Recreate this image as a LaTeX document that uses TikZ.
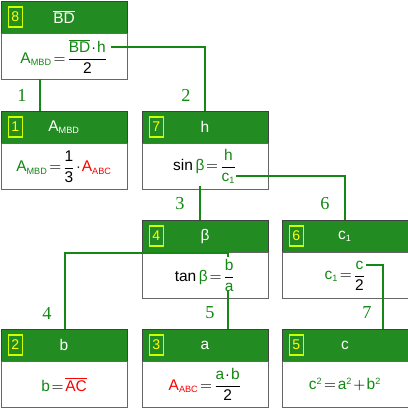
\documentclass[tikz,border=0pt]{standalone}
\usepackage{amsmath}
\usepackage{fontspec}
\setmainfont{Liberation Sans}
\newfontfamily\stepfont{Liberation Serif}
\usetikzlibrary{positioning}
\definecolor{hdgreen}{RGB}{34,139,34}
\definecolor{vgreen}{RGB}{20,135,20}
\definecolor{nyellow}{RGB}{255,255,0}
\DeclareMathSizes{11}{11}{6.5}{5}
\newcommand{\gv}[1]{\textcolor{vgreen}{\text{#1}}}
\newcommand{\rv}[1]{\textcolor{red}{\text{#1}}}
\thickmuskip=2mu plus 1mu
\medmuskip=1.5mu plus 1mu

\begin{document}
\begin{tikzpicture}[
    x=0.025cm, y=-0.025cm,
    head/.style={rectangle, draw=black!75, fill=hdgreen, minimum width=3.15cm, minimum height=0.8cm, inner sep=0pt, text=white, font=\fontsize{11}{13}\selectfont},
    body/.style={rectangle, draw=black!60, fill=white, minimum width=3.15cm, minimum height=1.15cm, inner sep=0pt, font=\fontsize{11}{13}\selectfont},
    numbox/.style={rectangle, draw=nyellow!80!green, thick, minimum width=0.36cm, minimum height=0.5cm, inner sep=0pt, text=nyellow, font=\fontsize{10}{12}\selectfont},
    steplabel/.style={text=vgreen, font=\stepfont\fontsize{13}{15}\selectfont},
    link/.style={draw=vgreen, line width=1.1pt}
]
    \useasboundingbox (0,0) rectangle (408,408);

    % Box 8
    \node[head] (h8) at (64,17) {$\overline{\text{BD}}$};
    \node[numbox, right=0.17cm of h8.west, anchor=west] (n8) {8};
    \node[body, below=0pt of h8] (b8) {$\gv{A}_{\gv{MBD}}=\dfrac{\textcolor{vgreen}{\overline{\text{BD}}}\cdot\gv{h}}{\text{2}}$};

    % Second row
    \node[head] (h1) at (64,127) {$\text{A}_{\text{MBD}}$};
    \node[numbox, right=0.17cm of h1.west, anchor=west] (n1) {1};
    \node[body, below=0pt of h1] (b1) {$\gv{A}_{\gv{MBD}}=\dfrac{\text{1}}{\text{3}}\cdot\rv{A}_{\rv{ABC}}$};

    \node[head] (h7) at (205,127) {h};
    \node[numbox, right=0.17cm of h7.west, anchor=west] (n7) {7};
    \node[body, below=0pt of h7] (b7) {$\text{sin}\,\gv{β}=\dfrac{\gv{h}}{\gv{c}_{\gv{1}}}$};

    % Third row
    \node[head] (h4) at (205,236) {β};
    \node[numbox, right=0.17cm of h4.west, anchor=west] (n4) {4};
    \node[body, below=0pt of h4] (b4) {$\text{tan}\,\gv{β}=\dfrac{\gv{b}}{\gv{a}}$};

    \node[head] (h6) at (345,236) {$\text{c}_{\text{1}}$};
    \node[numbox, right=0.17cm of h6.west, anchor=west] (n6) {6};
    \node[body, below=0pt of h6] (b6) {$\gv{c}_{\gv{1}}=\dfrac{\gv{c}}{\text{2}}$};

    % Bottom row
    \node[head] (h2) at (64,345) {b};
    \node[numbox, right=0.17cm of h2.west, anchor=west] (n2) {2};
    \node[body, below=0pt of h2] (b2) {$\gv{b}=\textcolor{red}{\overline{\text{AC}}}$};

    \node[head] (h3) at (205,345) {a};
    \node[numbox, right=0.17cm of h3.west, anchor=west] (n3) {3};
    \node[body, below=0pt of h3] (b3) {$\rv{A}_{\rv{ABC}}=\dfrac{\gv{a}\cdot\gv{b}}{\text{2}}$};

    \node[head] (h5) at (345,345) {c};
    \node[numbox, right=0.17cm of h5.west, anchor=west] (n5) {5};
    \node[body, below=0pt of h5] (b5) {$\gv{c}^{\gv{2}}=\gv{a}^{\gv{2}}+\gv{b}^{\gv{2}}$};

    % Connector ends inside the formulas
    \coordinate (s1) at (40,79);
    \coordinate (s2) at (111,47);
    \coordinate (s3) at (200,186);
    \coordinate (s6) at (236,176);
    \coordinate (s4) at (228,257);
    \coordinate (s5) at (228,290);
    \coordinate (s7) at (366,265);
    \coordinate (k7) at (383,265);
    \coordinate (k4) at (65,253);

    % Links
    \draw[link] (s1) -- (s1 |- h1.north);
    \draw[link] (s2) -| (h7.north);
    \draw[link] (s3) -- (s3 |- h4.north);
    \draw[link] (s6) -| (h6.north);
    \draw[link] (s4) |- (k4) -- (k4 |- h2.north);
    \draw[link] (s5) -- (s5 |- h3.north);
    \draw[link] (s7) -- (k7) -- (k7 |- h5.north);

    % Step numbers
    \node[steplabel] (l1) at (22,95) {1};
    \node[steplabel] (l2) at (186,95) {2};
    \node[steplabel] (l3) at (180,204) {3};
    \node[steplabel] (l6) at (325,204) {6};
    \node[steplabel] (l4) at (47,313) {4};
    \node[steplabel] (l5) at (210,313) {5};
    \node[steplabel] (l7) at (367,313) {7};
\end{tikzpicture}
\end{document}
